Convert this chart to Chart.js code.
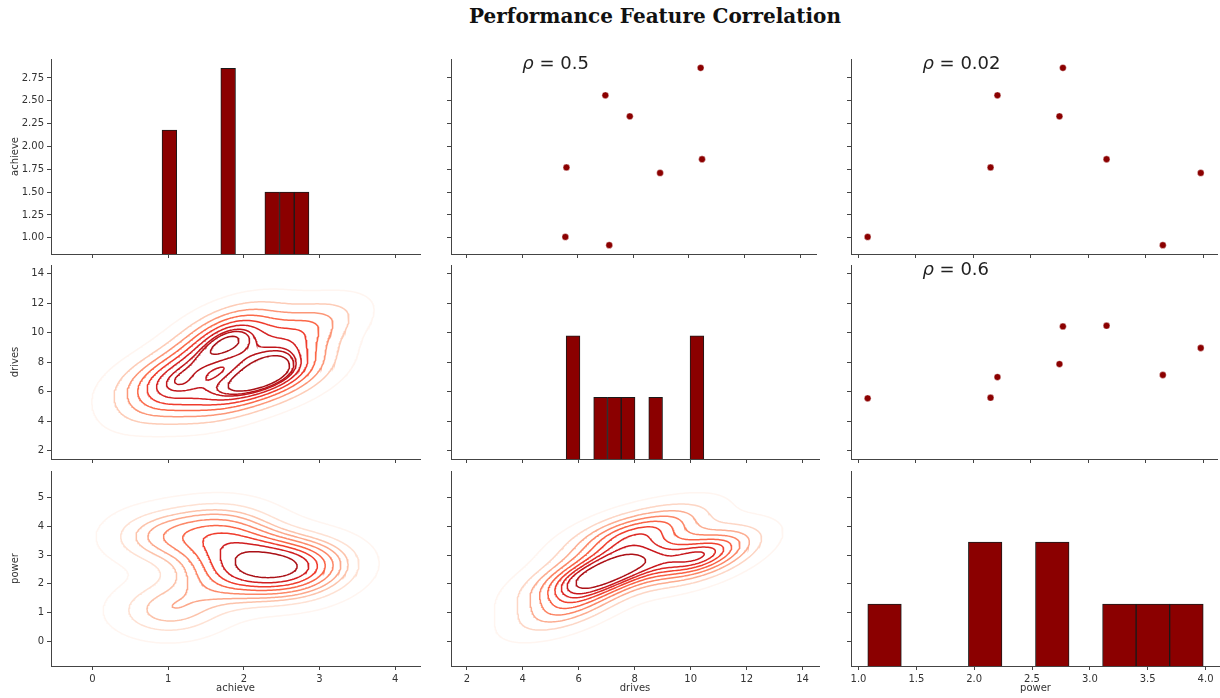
<!DOCTYPE html>
<html>
<head>
<meta charset="utf-8">
<script src="https://cdn.jsdelivr.net/npm/chart.js@4.4.0/dist/chart.umd.min.js"></script>
<style>
  html, body { margin: 0; padding: 0; background: #fff; }
  #wrap { position: relative; width: 1220px; height: 698px; overflow: hidden; }
  #title { position: absolute; left: 0; top: 4px; width: 1310px; text-align: center;
           font: bold 20px "DejaVu Serif"; color: #111; }
  canvas { position: absolute; }
</style>
</head>
<body>
<div id="wrap"><div id="title">Performance Feature Correlation</div></div>
<script>
// feature values, one entry per observation
const features = ['achieve', 'drives', 'power'];
const achieve = [1.01, 1.77, 2.56, 2.33, 2.86, 1.86, 0.92, 1.71];
const drives  = [5.55, 5.59, 6.99, 7.87, 10.42, 10.47, 7.13, 8.96];
const power   = [1.08, 2.15, 2.21, 2.75, 2.78, 3.16, 3.65, 3.98];

// histogram counts on the diagonal (10 bins between min and max)
const achieveCounts = [2, 0, 0, 0, 3, 0, 0, 1, 1, 1];
const drivesCounts  = [2, 0, 1, 1, 1, 0, 1, 0, 0, 2];
const powerCounts   = [1, 0, 0, 2, 0, 2, 0, 1, 1, 1];

// correlation labels for the upper panels: achieve/drives, achieve/power, drives/power
const rhoLabels = ['0.5', '0.02', '0.6'];

// tick labels
const achieveTicks  = [0, 1, 2, 3, 4];
const achieveYTicks = [1.00, 1.25, 1.50, 1.75, 2.00, 2.25, 2.50, 2.75];
const drivesTicks   = [2, 4, 6, 8, 10, 12, 14];
const powerXTicks   = [1.0, 1.5, 2.0, 2.5, 3.0, 3.5, 4.0];
const powerYTicks   = [0, 1, 2, 3, 4, 5];

const series = [achieve, drives, power];
const counts = [achieveCounts, drivesCounts, powerCounts];

// panel boxes in page pixels
const colL = [51, 451, 851], colR = [420, 819, 1220];
const rowT = [59, 265, 471], rowB = [254, 459, 666];
const PAD_T = 8, YW = 50, XH = 34;

const GRID = 200, CUT = 3, N_LEVELS = 10, THRESH = 0.05;
const DARKRED = '#8b0000';

function mean(a) { return a.reduce((s, v) => s + v, 0) / a.length; }
function sd(a) { const m = mean(a); return Math.sqrt(a.reduce((s, v) => s + (v - m) * (v - m), 0) / (a.length - 1)); }
function kdeSupport(a) {
  const bw = Math.pow(a.length, -1 / 6) * sd(a);
  return [Math.min(...a) - CUT * bw, Math.max(...a) + CUT * bw];
}
function padded(a) {
  const lo = Math.min(...a), hi = Math.max(...a), m = (hi - lo) * 0.05;
  return [lo - m, hi + m];
}
function linspace(a, b, n) { const out = []; for (let i = 0; i < n; i++) out.push(a + (b - a) * i / (n - 1)); return out; }

const xlim = [kdeSupport(achieve), kdeSupport(drives), padded(power)];
const ylim = [padded(achieve), kdeSupport(drives), kdeSupport(power)];
const xTicks = [achieveTicks, drivesTicks, powerXTicks];
const yTicks = [achieveYTicks, drivesTicks, powerYTicks];
const countMax = Math.max(...achieveCounts, ...drivesCounts, ...powerCounts) * 1.05;

// gaussian kde with full covariance (scott factor)
function kde2d(xs, ys) {
  const n = xs.length, mx = mean(xs), my = mean(ys);
  let sxx = 0, syy = 0, sxy = 0;
  for (let k = 0; k < n; k++) {
    const dx = xs[k] - mx, dy = ys[k] - my;
    sxx += dx * dx; syy += dy * dy; sxy += dx * dy;
  }
  const f2 = Math.pow(n, -1 / 3);
  const cxx = sxx / (n - 1) * f2, cyy = syy / (n - 1) * f2, cxy = sxy / (n - 1) * f2;
  const det = cxx * cyy - cxy * cxy;
  const ixx = cyy / det, iyy = cxx / det, ixy = -cxy / det;
  const gx = linspace(...kdeSupport(xs), GRID), gy = linspace(...kdeSupport(ys), GRID);
  const z = [];
  for (let j = 0; j < GRID; j++) {
    const row = [];
    for (let i = 0; i < GRID; i++) {
      let s = 0;
      for (let k = 0; k < n; k++) {
        const dx = gx[i] - xs[k], dy = gy[j] - ys[k];
        s += Math.exp(-0.5 * (ixx * dx * dx + 2 * ixy * dx * dy + iyy * dy * dy));
      }
      row.push(s);
    }
    z.push(row);
  }
  return { gx, gy, z };
}

// iso-proportion levels (share of density mass outside each contour)
function isoLevels(z) {
  const vals = [].concat(...z).sort((a, b) => b - a);
  const total = vals.reduce((s, v) => s + v, 0);
  const cum = []; let acc = 0;
  vals.forEach(v => { acc += v; cum.push(acc / total); });
  return linspace(THRESH, 1, N_LEVELS).map(p => {
    const target = 1 - p;
    let idx = cum.findIndex(c => c >= target);
    if (idx < 0) idx = vals.length - 1;
    return vals[idx];
  }).sort((a, b) => a - b);
}

// marching squares, segments joined into polylines
function contourLines(g, level) {
  const { gx, gy, z } = g;
  const adj = new Map(), pts = new Map();
  const key = (t, i, j) => {
    const k = t + i + '_' + j;
    if (!pts.has(k)) {
      let a, b, p;
      if (t === 'h') { a = z[j][i]; b = z[j][i + 1]; const u = (level - a) / (b - a); p = { x: gx[i] + u * (gx[i + 1] - gx[i]), y: gy[j] }; }
      else { a = z[j][i]; b = z[j + 1][i]; const u = (level - a) / (b - a); p = { x: gx[i], y: gy[j] + u * (gy[j + 1] - gy[j]) }; }
      pts.set(k, p);
    }
    return k;
  };
  const link = (a, b) => {
    if (!adj.has(a)) adj.set(a, []);
    if (!adj.has(b)) adj.set(b, []);
    adj.get(a).push(b); adj.get(b).push(a);
  };
  for (let j = 0; j < gy.length - 1; j++) {
    for (let i = 0; i < gx.length - 1; i++) {
      const z0 = z[j][i], z1 = z[j][i + 1], z2 = z[j + 1][i + 1], z3 = z[j + 1][i];
      const b0 = z0 > level, b1 = z1 > level, b2 = z2 > level, b3 = z3 > level;
      const e = [];
      if (b0 !== b1) e.push(key('h', i, j));
      if (b1 !== b2) e.push(key('v', i + 1, j));
      if (b3 !== b2) e.push(key('h', i, j + 1));
      if (b0 !== b3) e.push(key('v', i, j));
      if (e.length === 2) link(e[0], e[1]);
      else if (e.length === 4) {
        const c = (z0 + z1 + z2 + z3) / 4 > level;
        if (c === b0) { link(e[0], e[1]); link(e[2], e[3]); }
        else { link(e[0], e[3]); link(e[2], e[1]); }
      }
    }
  }
  const seen = new Set(), lines = [];
  const walk = start => {
    const path = [start]; seen.add(start);
    let cur = start;
    for (;;) {
      const nb = adj.get(cur).find(k => !seen.has(k));
      if (nb === undefined) break;
      seen.add(nb); path.push(nb); cur = nb;
    }
    if (path.length > 2 && adj.get(cur).includes(start)) path.push(start);
    lines.push(path.map(k => pts.get(k)));
  };
  for (const [k, v] of adj) if (v.length === 1 && !seen.has(k)) walk(k);
  for (const k of adj.keys()) if (!seen.has(k)) walk(k);
  return lines;
}

// matplotlib "Reds"
const REDS = [[255, 245, 240], [254, 224, 210], [252, 187, 161], [252, 146, 114], [251, 106, 74],
              [239, 59, 44], [203, 24, 29], [165, 15, 21], [103, 0, 13]];
function reds(t) {
  const p = Math.max(0, Math.min(1, t)) * (REDS.length - 1);
  const i = Math.min(REDS.length - 2, Math.floor(p)), f = p - i;
  const c = REDS[i].map((v, k) => Math.round(v + (REDS[i + 1][k] - v) * f));
  return `rgb(${c[0]},${c[1]},${c[2]})`;
}

function kdeDatasets(xs, ys) {
  const g = kde2d(xs, ys);
  const levels = isoLevels(g.z);
  const lo = levels[0], hi = levels[levels.length - 1];
  const out = [];
  levels.forEach(L => {
    const color = reds((L - lo) / (hi - lo));
    contourLines(g, L).forEach(line => out.push({
      type: 'scatter', data: line, showLine: true, pointRadius: 0,
      borderColor: color, borderWidth: 1.5, tension: 0, fill: false
    }));
  });
  return out;
}

const rhoPlugin = {
  id: 'rho',
  afterDatasetsDraw(chart, args, opts) {
    if (!opts.text) return;
    const { ctx, chartArea: a } = chart;
    const x = a.left + 0.195 * (a.right - a.left), y = a.top + 10;
    ctx.save();
    ctx.fillStyle = '#222';
    ctx.textBaseline = 'alphabetic';
    ctx.font = 'italic 18px "DejaVu Sans"';
    ctx.fillText('ρ', x, y);
    const w = ctx.measureText('ρ').width;
    ctx.font = '18px "DejaVu Sans"';
    ctx.fillText(' = ' + opts.text, x + w, y);
    ctx.restore();
  }
};

const tickFont = { family: 'DejaVu Sans', size: 10 };
function fmtX(c, v) { return c === 2 ? v.toFixed(1) : String(v); }
function fmtY(r, v) { return r === 0 ? v.toFixed(2) : String(v); }

const wrap = document.getElementById('wrap');

for (let r = 0; r < 3; r++) {
  for (let c = 0; c < 3; c++) {
    const w = colR[c] - colL[c] + YW + 2;
    const h = rowB[r] - rowT[r] + PAD_T + XH;
    const cv = document.createElement('canvas');
    cv.width = w; cv.height = h;
    cv.style.left = (colL[c] - YW) + 'px';
    cv.style.top = (rowT[r] - PAD_T) + 'px';
    cv.style.width = w + 'px'; cv.style.height = h + 'px';
    wrap.appendChild(cv);

    let datasets = [];
    let rhoText = null;
    if (r === c) {
      const vals = series[c];
      const lo = Math.min(...vals), hi = Math.max(...vals), bw = (hi - lo) / counts[c].length;
      datasets.push({
        type: 'bar', yAxisID: 'yc',
        data: counts[c].map((n, k) => ({ x: lo + bw * (k + 0.5), y: n })),
        backgroundColor: DARKRED, borderColor: '#1a1a1a', borderWidth: 1,
        barPercentage: 1, categoryPercentage: 1
      });
    } else if (r < c) {
      datasets.push({
        type: 'scatter',
        data: series[c].map((v, k) => ({ x: v, y: series[r][k] })),
        backgroundColor: DARKRED, borderColor: 'rgba(255,255,255,0.7)', borderWidth: 0.6,
        pointRadius: 3.4
      });
      rhoText = rhoLabels[r + c - 1];
    } else {
      datasets = kdeDatasets(series[c], series[r]);
    }

    const scales = {
      x: {
        type: 'linear', position: 'bottom', min: xlim[c][0], max: xlim[c][1], offset: false,
        afterBuildTicks: s => { s.ticks = xTicks[c].map(v => ({ value: v })); },
        afterFit: s => { s.height = XH; s.paddingLeft = 0; s.paddingRight = 0; },
        grid: { display: true, offset: false, drawOnChartArea: false, drawTicks: true, tickLength: 4, tickColor: '#444', tickWidth: 1 },
        border: { display: true, color: '#444', width: 1 },
        ticks: { display: r === 2, color: '#333', font: tickFont, padding: 3, maxRotation: 0, autoSkip: false,
                 callback: v => fmtX(c, v) },
        title: { display: r === 2, text: features[c], color: '#333', font: tickFont, padding: { top: 0, bottom: 6 } }
      },
      y: {
        type: 'linear', position: 'left', min: ylim[r][0], max: ylim[r][1], offset: false,
        afterBuildTicks: s => { s.ticks = yTicks[r].map(v => ({ value: v })); },
        afterFit: s => { s.width = YW; s.paddingTop = 0; s.paddingBottom = 0; },
        grid: { display: true, offset: false, drawOnChartArea: false, drawTicks: true, tickLength: 4, tickColor: '#444', tickWidth: 1 },
        border: { display: true, color: '#444', width: 1 },
        ticks: { display: c === 0, color: '#333', font: tickFont, padding: 3, autoSkip: false,
                 callback: v => fmtY(r, v) },
        title: { display: c === 0, text: features[r], color: '#333', font: tickFont, padding: { top: 8, bottom: 0 } }
      }
    };
    if (r === c) scales.yc = { type: 'linear', display: false, min: 0, max: countMax, offset: false };

    new Chart(cv, {
      type: 'scatter',
      data: { datasets },
      options: {
        animation: false, responsive: false, maintainAspectRatio: false, events: [],
        layout: { padding: { top: PAD_T, right: 2, left: 0, bottom: 0 } },
        plugins: { legend: { display: false }, tooltip: { enabled: false }, rho: { text: rhoText } },
        scales
      },
      plugins: [rhoPlugin]
    });
  }
}
</script>
</body>
</html>
